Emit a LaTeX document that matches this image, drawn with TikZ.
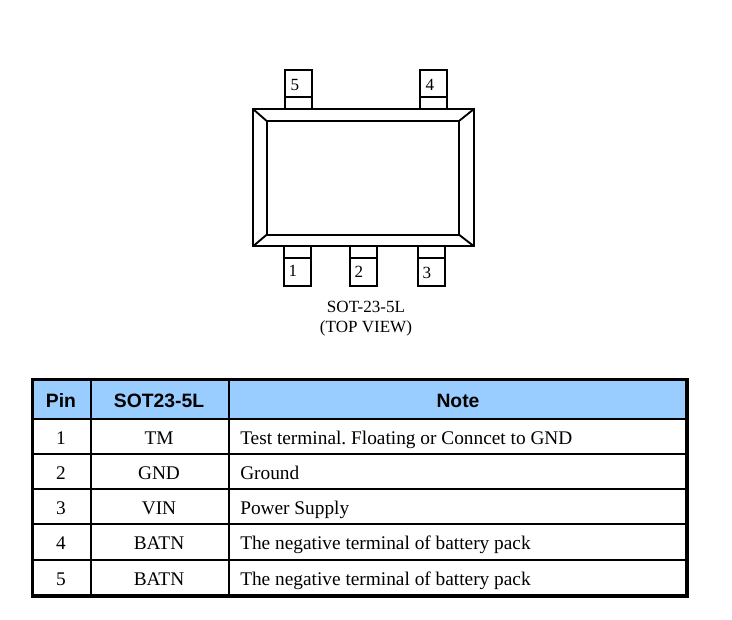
\documentclass[tikz,border=0pt]{standalone}
\usepackage{fontspec}
\setmainfont{Liberation Serif}
\newfontfamily\hdrfont{Liberation Sans}[BoldFont={Liberation Sans Bold}]
\frenchspacing
\tikzset{
  pkgline/.style={draw=black,line width=1.4pt},
  pinnum/.style={anchor=base,font=\fontsize{12.8}{14}\selectfont,inner sep=0pt},
  caption/.style={anchor=base,font=\fontsize{12.8}{14}\selectfont,inner sep=0pt},
  cellc/.style={anchor=base,font=\fontsize{14.5}{16}\selectfont,inner sep=0pt},
  celll/.style={anchor=base west,font=\fontsize{14.5}{16}\selectfont,inner sep=0pt},
  headc/.style={anchor=base,font=\hdrfont\bfseries\fontsize{14.5}{16}\selectfont,inner sep=0pt},
  thin rule/.style={draw=black,line width=1.5pt},
  thick rule/.style={draw=black,line width=2.6pt}
}
\begin{document}
\begin{tikzpicture}[x=0.75pt,y=-0.75pt]
\useasboundingbox[fill=white] (0,0) rectangle (732,620);
% package body
\draw[pkgline] (253,109) rectangle (474,246.3);
\draw[pkgline] (266.7,121) rectangle (459,234.7);
\draw[pkgline] (253,109) -- (266.7,121);
\draw[pkgline] (474,109) -- (459,121);
\draw[pkgline] (253,246.3) -- (266.7,234.7);
\draw[pkgline] (474,246.3) -- (459,234.7);
% pins top
\draw[pkgline] (285,70) rectangle (312,109);
\draw[pkgline] (285,97.3) -- (312,97.3);
\draw[pkgline] (420,70) rectangle (447,109);
\draw[pkgline] (420,97.3) -- (447,97.3);
% pins bottom
\draw[pkgline] (284,246.3) rectangle (311,285.7);
\draw[pkgline] (284,258) -- (311,258);
\draw[pkgline] (350,246.3) rectangle (377,285.7);
\draw[pkgline] (350,258) -- (377,258);
\draw[pkgline] (418,246.3) rectangle (445,285.7);
\draw[pkgline] (418,258) -- (445,258);
\node[pinnum] (p5) at (295,90.5) {5};
\node[pinnum] (p4) at (430,90.5) {4};
\node[pinnum] (p1) at (293,277) {1};
\node[pinnum] (p2) at (359,278) {2};
\node[pinnum] (p3) at (427,279) {3};
\node[caption] (cap1) at (366,312.5) {SOT-23-5L};
\node[caption] (cap2) at (366,332.5) {(TOP VIEW)};
% table
\fill[fill={rgb,255:red,153;green,204;blue,255}] (32.7,379.5) rectangle (687,419);
\foreach \yy in {419,453.7,489.3,524.3,559.7} \draw[thin rule] (32.7,\yy) -- (687,\yy);
\foreach \xx in {91,229} \draw[thin rule] (\xx,379.5) -- (\xx,596);
\draw[thick rule] (32.7,379.5) rectangle (687,596);
\node[headc] (h1) at (61,407) {Pin};
\node[headc] (h2) at (159,407) {SOT23-5L};
\node[headc] (h3) at (458,407) {Note};
\node[cellc] (a1) at (61,444.7) {1};
\node[cellc] (b1) at (159,444.7) {TM};
\node[celll] (c1) at (240,444.7) {Test terminal. Floating or Conncet to GND};
\node[cellc] (a2) at (61,479) {2};
\node[cellc] (b2) at (159,479) {GND};
\node[celll] (c2) at (240,479) {Ground};
\node[cellc] (a3) at (61,514) {3};
\node[cellc] (b3) at (159,514) {VIN};
\node[celll] (c3) at (240,514) {Power Supply};
\node[cellc] (a4) at (61,549) {4};
\node[cellc] (b4) at (159,549) {BATN};
\node[celll] (c4) at (240,549) {The negative terminal of battery pack};
\node[cellc] (a5) at (61,585) {5};
\node[cellc] (b5) at (159,585) {BATN};
\node[celll] (c5) at (240,585) {The negative terminal of battery pack};
\end{tikzpicture}
\end{document}
